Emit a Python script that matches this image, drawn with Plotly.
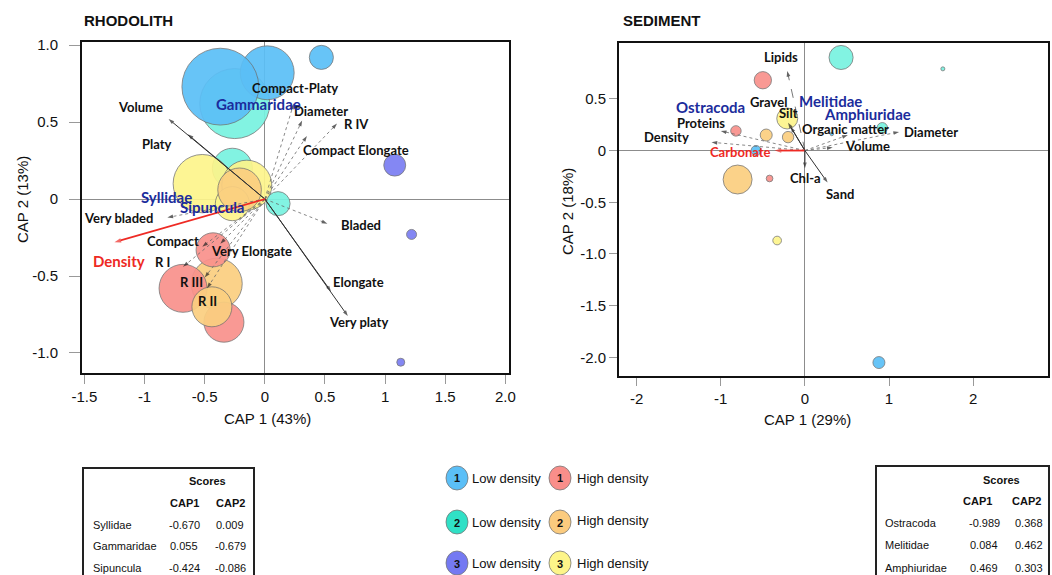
import plotly.graph_objects as go

W, H = 1052, 575

# ---------------- DATA ----------------
groups_colors = {"L1": "#5BBFF7", "L2": "#78F3E0", "L3": "#7A7DF2",
                 "H1": "#F9918C", "H2": "#FBCF80", "H3": "#FDF58B"}

# Rhodolith samples (CAP1, CAP2, abundance, group)
rho_x = [-0.25, 0.02, -0.37, 0.47, -0.27, -0.52, -0.15, -0.27, -0.21, 0.11,
         -0.40, -0.34, -0.68, -0.43, -0.44, 1.08, 1.22, 1.13]
rho_y = [0.62, 0.82, 0.73, 0.92, 0.20, 0.10, 0.09, -0.03, 0.06, -0.03,
         -0.55, -0.80, -0.58, -0.33, -0.70, 0.22, -0.23, -1.06]
rho_abund = [49, 29, 59, 5.8, 16, 34, 25, 11.6, 19, 5.8,
             26, 16, 23, 11.6, 16, 4.8, 1.0, 0.64]
rho_group = ["L2", "L1", "L1", "L1", "L2", "H3", "H3", "H3", "H2", "L2",
             "H2", "H1", "H1", "H1", "H2", "L3", "L3", "L3"]

rho_vec_names = ["Volume", "Platy", "Compact-Platy", "Diameter", "Compact Elongate", "R IV",
                 "Very bladed", "Compact", "Very Elongate", "R I", "R III", "R II",
                 "Bladed", "Elongate", "Very platy", "Density"]
rho_vec_x = [-0.80, -0.64, 0.24, 0.31, 0.35, 0.60, -0.81, -0.52, -0.37, -0.68, -0.50, -0.48,
             0.52, 0.55, 0.69, -1.25]
rho_vec_y = [0.52, 0.42, 0.62, 0.51, 0.41, 0.49, -0.12, -0.31, -0.29, -0.44, -0.51, -0.58,
             -0.16, -0.60, -0.76, -0.28]

rho_species = ["Syllidae", "Gammaridae", "Sipuncula"]
rho_cap1 = ["-0.670", "0.055", "-0.424"]
rho_cap2 = ["0.009", "-0.679", "-0.086"]

# Sediment samples
sed_x = [0.43, 1.64, -0.50, -0.21, -0.82, -0.46, -0.20, 0.92, 0.32, -0.58, -0.80, -0.42, -0.33, 0.88]
sed_y = [0.90, 0.79, 0.68, 0.31, 0.19, 0.15, 0.13, 0.22, 0.16, 0.00, -0.28, -0.27, -0.87, -2.05]
sed_abund = [5.8, 0.16, 3.0, 4.4, 1.1, 1.44, 1.3, 1.1, 0.12, 1.0, 8.4, 0.45, 0.75, 1.44]
sed_group = ["L2", "L2", "H1", "H3", "H1", "H2", "H2", "L2", "L1", "L1", "H2", "H1", "H3", "L1"]

sed_vec_names = ["Lipids", "Gravel", "Silt", "Proteins", "Density", "Carbonate",
                 "Organic matter", "Diameter", "Volume", "Chl-a", "Sand"]
sed_vec_x = [-0.21, -0.20, -0.17, -1.00, -1.11, -0.36, 0.51, 1.12, 0.33, 0.00, 0.27]
sed_vec_y = [0.77, 0.27, 0.23, 0.19, 0.08, 0.00, 0.15, 0.18, 0.03, -0.17, -0.31]

sed_species = ["Ostracoda", "Melitidae", "Amphiuridae"]
sed_cap1 = ["-0.989", "0.084", "0.469"]
sed_cap2 = ["0.368", "0.462", "0.303"]

rho_xticks = [-1.5, -1, -0.5, 0, 0.5, 1, 1.5, 2]
rho_xticktext = ["-1.5", "-1", "-0.5", "0", "0.5", "1", "1.5", "2.0"]
rho_yticks = [1, 0.5, 0, -0.5, -1]
rho_yticktext = ["1.0", "0.5", "0", "-0.5", "-1.0"]
sed_xticks = [-2, -1, 0, 1, 2]
sed_xticktext = ["-2", "-1", "0", "1", "2"]
sed_yticks = [0.5, 0, -0.5, -1, -1.5, -2]
sed_yticktext = ["0.5", "0", "-0.5", "-1.0", "-1.5", "-2.0"]

# ---------------- STYLE / LAYOUT HELPERS ----------------
def px(x):
    return x / W

def py(y):
    return 1 - y / H

LBL_FONT = dict(family="Lato", size=13, color="#111111", weight=700)
SP_FONT = dict(family="Lato", size=15, color="#1B2C9C", weight=700)
RED = "#EE2A24"

rho_dash = {"Volume": ("solid", "#333"), "Platy": ("solid", "#333"),
            "Elongate": ("solid", "#333"), "Very platy": ("solid", "#333"),
            "Density": ("solid", RED)}
sed_dash = {"Gravel": ("solid", "#333"), "Silt": ("solid", "#333"), "Chl-a": ("solid", "#333"),
            "Sand": ("solid", "#333"), "Lipids": ("dash", "#555"), "Carbonate": ("solid", RED)}

rho_label_pos = {"Volume": (-1.03, 0.60), "Platy": (-0.90, 0.36), "Compact-Platy": (0.25, 0.72),
                 "Diameter": (0.47, 0.57), "R IV": (0.76, 0.49), "Compact Elongate": (0.76, 0.32),
                 "Very bladed": (-1.22, -0.12), "Compact": (-0.76, -0.27),
                 "Very Elongate": (-0.11, -0.34), "R I": (-0.85, -0.41), "R III": (-0.61, -0.54),
                 "R II": (-0.48, -0.66), "Bladed": (0.80, -0.17), "Elongate": (0.78, -0.54),
                 "Very platy": (0.78, -0.80), "Density": (-1.21, -0.40)}
rho_sp_pos = {"Gammaridae": (-0.05, 0.62), "Syllidae": (-0.82, 0.01), "Sipuncula": (-0.44, -0.05)}

sed_label_pos = {"Lipids": (-0.29, 0.90), "Gravel": (-0.43, 0.47), "Silt": (-0.20, 0.36),
                 "Proteins": (-1.23, 0.27), "Density": (-1.64, 0.13), "Carbonate": (-0.76, -0.01),
                 "Organic matter": (0.48, 0.21), "Diameter": (1.50, 0.18), "Volume": (0.75, 0.04),
                 "Chl-a": (0.01, -0.27), "Sand": (0.42, -0.42)}
sed_sp_pos = {"Ostracoda": (-1.12, 0.42), "Melitidae": (0.31, 0.48), "Amphiuridae": (0.74, 0.355)}

fig = go.Figure()
annotations = []
shapes = []


def ptext(x, y, text, font, xanchor="center", **kw):
    d = dict(x=px(x), y=py(y), xref="paper", yref="paper", text=text, showarrow=False,
             xanchor=xanchor, yanchor="middle", font=font)
    d.update(kw)
    annotations.append(d)


def add_vectors(names, vx, vy, styles, xa, ya):
    for n, x, y in zip(names, vx, vy):
        dash, col = styles.get(n, ("dot", "#6A6A6A"))
        wid = 1.8 if col == RED else (1.0 if dash == "solid" else 0.8)
        fig.add_trace(go.Scatter(
            x=[0, x], y=[0, y], mode="lines+markers", xaxis=xa, yaxis=ya,
            line=dict(color=col, width=wid, dash=dash),
            marker=dict(symbol="arrow", size=[0, 7 if col == RED else 6], angleref="previous",
                        color="#222" if col != RED else RED, line=dict(width=0)),
            hoverinfo="skip", showlegend=False))


def add_bubbles(x, y, ab, gr, xa, ya):
    fig.add_trace(go.Scatter(
        x=x, y=y, mode="markers", xaxis=xa, yaxis=ya,
        marker=dict(size=ab, sizemode="area", sizeref=0.02,
                    color=[groups_colors[g] for g in gr], opacity=0.92,
                    line=dict(color="#6E6E6E", width=0.8)),
        hoverinfo="skip", showlegend=False))


def dtext(x, y, text, font, xr, yr):
    annotations.append(dict(x=x, y=y, xref=xr, yref=yr, text=text, showarrow=False,
                            xanchor="center", yanchor="middle", font=font))


# Rhodolith
add_bubbles(rho_x, rho_y, rho_abund, rho_group, "x", "y")
add_vectors(rho_vec_names, rho_vec_x, rho_vec_y, rho_dash, "x", "y")
for n in rho_vec_names:
    lx, ly = rho_label_pos[n]
    f = dict(LBL_FONT)
    if n == "Density":
        f = dict(family="Lato", size=15, color=RED, weight=700)
    dtext(lx, ly, n, f, "x", "y")
for n in rho_species:
    lx, ly = rho_sp_pos[n]
    dtext(lx, ly, n, SP_FONT, "x", "y")

# Sediment
add_bubbles(sed_x, sed_y, sed_abund, sed_group, "x2", "y2")
add_vectors(sed_vec_names, sed_vec_x, sed_vec_y, sed_dash, "x2", "y2")
for n in sed_vec_names:
    lx, ly = sed_label_pos[n]
    f = dict(LBL_FONT)
    if n == "Carbonate":
        f = dict(family="Lato", size=13, color=RED, weight=700)
    dtext(lx, ly, n, f, "x2", "y2")
for n in sed_species:
    lx, ly = sed_sp_pos[n]
    dtext(lx, ly, n, SP_FONT, "x2", "y2")

# Titles and axis titles
TF = dict(family="Liberation Sans", size=15, color="#111")
ptext(82, 20, "<b>RHODOLITH</b>", TF, xanchor="left")
ptext(621, 20, "<b>SEDIMENT</b>", TF, xanchor="left")
ptext(267, 418, "CAP 1 (43%)", TF)
ptext(807, 419, "CAP 1 (29%)", TF)
ptext(22, 200, "CAP 2 (13%)", TF, textangle=-90)
ptext(567, 212, "CAP 2 (18%)", TF, textangle=-90)

# Legend (drawn manually)
leg_rows = [("L1", "H1", "1", 478, 478), ("L2", "H2", "2", 522, 520), ("L3", "H3", "3", 563, 563)]
leg_cols = {"L1": "#5BBFF7", "L2": "#30E0C6", "L3": "#7479F2", "H1": "#F98E8A", "H2": "#FBCB7E", "H3": "#FDF589"}
LF = dict(family="Liberation Sans", size=13, color="#111")
for lo, hi, num, yrow, ytxt in leg_rows:
    for g, cx, tx, txt, yt in [(lo, 457, 470, "Low density", yrow), (hi, 560, 575, "High density", ytxt)]:
        shapes.append(dict(type="circle", xref="paper", yref="paper",
                           x0=px(cx - 11), x1=px(cx + 11), y0=py(yrow + 12), y1=py(yrow - 12),
                           fillcolor=leg_cols[g], line=dict(color="#777", width=0.8)))
        ptext(cx, yrow + 0.5, "<b>" + num + "</b>", dict(family="Liberation Sans", size=11, color="#111"))
        ptext(tx, yt, txt, LF, xanchor="left")

# Tables
TBF = dict(family="Liberation Sans", size=11, color="#111")


def add_table(x0, x1, ytop, xname, xh1, xh2, xv1, xv2, yscore, yhead, yrows, names, c1, c2):
    shapes.append(dict(type="rect", xref="paper", yref="paper", x0=px(x0), x1=px(x1),
                       y0=py(620), y1=py(ytop), line=dict(color="#222", width=2)))
    ptext((xh1 + xh2) / 2, yscore, "<b>Scores</b>", TBF)
    ptext(xh1, yhead, "<b>CAP1</b>", TBF)
    ptext(xh2, yhead, "<b>CAP2</b>", TBF)
    for n, a, b, yr in zip(names, c1, c2, yrows):
        ptext(xname, yr, n, TBF, xanchor="left")
        ptext(xv1, yr, a, TBF)
        ptext(xv2, yr, b, TBF)


add_table(83, 254, 468, 91, 184, 230, 184, 230, 481, 503, [525, 546, 568], rho_species, rho_cap1, rho_cap2)
add_table(876, 1049, 466, 883, 977, 1026, 984, 1029, 480, 501, [523, 545, 568], sed_species, sed_cap1, sed_cap2)

AX = dict(showgrid=False, showline=True, mirror=True, linecolor="#111", linewidth=2, automargin=False,
          ticks="outside", tickcolor="#999", tickfont=dict(family="Liberation Sans", size=15, color="#111"),
          zeroline=True, zerolinecolor="#8C8C8C", zerolinewidth=1)

fig.update_layout(
    template="none",
    width=W, height=H, margin=dict(l=0, r=0, t=0, b=0, pad=0, autoexpand=False),
    paper_bgcolor="white", plot_bgcolor="white", showlegend=False, hovermode=False,
    xaxis=dict(AX, domain=[px(82), px(509)], range=[-1.52, 2.03], tickvals=rho_xticks,
               ticktext=rho_xticktext, ticklen=9, anchor="y"),
    yaxis=dict(AX, domain=[py(373), py(42)], range=[-1.13, 1.02], tickvals=rho_yticks,
               ticktext=rho_yticktext, ticklen=11, ticklabelstandoff=8, anchor="x"),
    xaxis2=dict(AX, domain=[px(619), px(1048)], range=[-2.21, 2.89], tickvals=sed_xticks,
                ticktext=sed_xticktext, ticklen=8, anchor="y2"),
    yaxis2=dict(AX, domain=[py(376), py(43)], range=[-2.18, 1.04], tickvals=sed_yticks,
                ticktext=sed_yticktext, ticklen=8, anchor="x2"),
    annotations=annotations, shapes=shapes,
)

fig.write_html("out.html")
